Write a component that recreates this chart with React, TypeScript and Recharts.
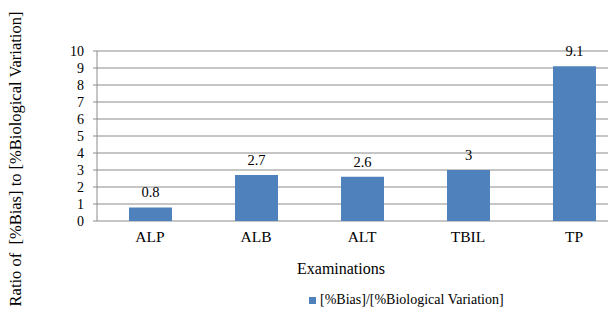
import { BarChart, Bar, XAxis, YAxis, CartesianGrid, Legend, LabelList } from 'recharts';

const categories = ['ALP', 'ALB', 'ALT', 'TBIL', 'TP'];
const ratios = [0.8, 2.7, 2.6, 3, 9.1];
const yTicks = [0, 1, 2, 3, 4, 5, 6, 7, 8, 9, 10];
const bandTicks = [0, 1, 2, 3, 4, 5];

const seriesName = '[%Bias]/[%Biological Variation]';
const yTitle = 'Ratio of  [%Bias] to [%Biological Variation]';
const xTitle = 'Examinations';

const font = '"Times New Roman", "Liberation Serif", Tinos, "DejaVu Serif", serif';
const grey = '#8c8c8c';
const blue = '#4f81bd';

const chartData = categories.map((name, i) => ({ name, band: i + 0.5, value: ratios[i] }));

const YTitle = ({ viewBox }: any) => {
  const x = viewBox.x + 15;
  const y = viewBox.y + viewBox.height / 2 + 23;
  return (
    <text
      x={x}
      y={y}
      transform={`rotate(-90 ${x} ${y})`}
      textAnchor="middle"
      dominantBaseline="central"
      style={{ whiteSpace: 'pre', fontFamily: font, fontSize: 16.5, fill: '#000' }}
    >
      {yTitle}
    </text>
  );
};

const XTitle = ({ viewBox }: any) => (
  <text
    x={341}
    y={viewBox.y + 53}
    textAnchor="middle"
    style={{ fontFamily: font, fontSize: 16, fill: '#000' }}
  >
    {xTitle}
  </text>
);

export default function App() {
  return (
    <div style={{ margin: -8, width: 616, height: 316, overflow: 'hidden', background: '#fff', fontFamily: font }}>
      <BarChart
        width={627}
        height={316}
        data={chartData}
        margin={{ top: 51, right: 0, left: 0, bottom: 0 }}
        style={{ fontFamily: font }}
      >
        <CartesianGrid vertical={false} stroke={grey} strokeDasharray="" />
        <XAxis
          xAxisId="band"
          dataKey="band"
          type="number"
          domain={[0, 5]}
          ticks={bandTicks}
          tick={false}
          height={0}
          tickSize={4}
          stroke={grey}
        />
        <XAxis
          dataKey="name"
          height={60}
          axisLine={false}
          tickLine={false}
          tickSize={4}
          tickMargin={6}
          tick={{ fill: '#000', fontSize: 15.5, style: { fontFamily: font } }}
          label={<XTitle />}
        />
        <YAxis
          width={97}
          domain={[0, 10]}
          ticks={yTicks}
          interval={0}
          stroke={grey}
          tickSize={4}
          tickMargin={9}
          tick={{ fill: '#000', fontSize: 14, style: { fontFamily: font } }}
          label={<YTitle />}
        />
        <Legend
          verticalAlign="bottom"
          align="left"
          iconType="square"
          iconSize={7}
          height={35}
          wrapperStyle={{
            left: 309,
            width: 260,
            height: 35,
            boxSizing: 'border-box',
            paddingTop: 11,
            fontSize: 14,
            lineHeight: '16px',
            fontFamily: font,
            color: '#000',
          }}
          formatter={(v: string) => <span style={{ color: '#000', fontFamily: font }}>{v}</span>}
        />
        <Bar dataKey="value" name={seriesName} fill={blue} barSize={43} isAnimationActive={false}>
          <LabelList dataKey="value" position="top" offset={10} fill="#000" fontSize={14.5} style={{ fontFamily: font }} />
        </Bar>
      </BarChart>
    </div>
  );
}
